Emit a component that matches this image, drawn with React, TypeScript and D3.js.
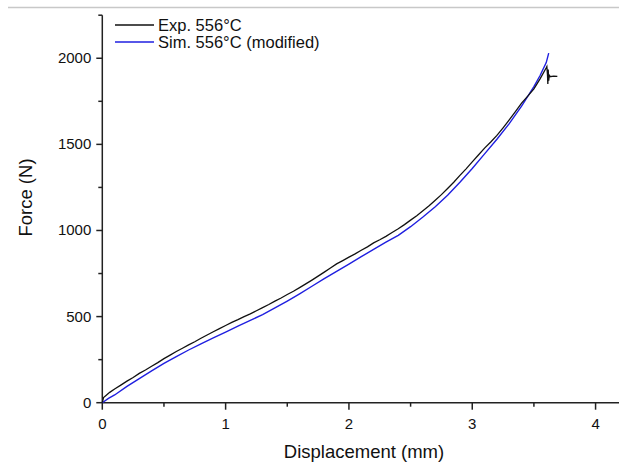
import React from "react";
import * as d3 from "d3";

const expDisp = [0, 0.01, 0.03, 0.06, 0.1, 0.15, 0.2, 0.25, 0.3, 0.35, 0.4, 0.45, 0.5, 0.55, 0.6, 0.65, 0.7, 0.75, 0.8, 0.85, 0.9, 0.95, 1.0, 1.05, 1.1, 1.15, 1.2, 1.25, 1.3, 1.35, 1.4, 1.45, 1.5, 1.55, 1.6, 1.65, 1.7, 1.75, 1.8, 1.85, 1.9, 1.95, 2.0, 2.05, 2.1, 2.15, 2.2, 2.25, 2.3, 2.35, 2.4, 2.45, 2.5, 2.55, 2.6, 2.65, 2.7, 2.75, 2.8, 2.85, 2.9, 2.95, 3.0, 3.05, 3.1, 3.15, 3.2, 3.25, 3.3, 3.35, 3.4, 3.45, 3.5, 3.55, 3.6, 3.605, 3.61, 3.613, 3.616, 3.62, 3.625, 3.63, 3.66, 3.69];
const expForce = [0, 30, 42, 60, 80, 102, 125, 146, 170, 190, 212, 233, 256, 276, 297, 316, 336, 354, 374, 393, 412, 430, 448, 466, 482, 500, 516, 534, 552, 570, 590, 608, 628, 647, 668, 690, 712, 735, 758, 782, 806, 825, 845, 864, 885, 905, 928, 946, 966, 988, 1010, 1034, 1060, 1086, 1114, 1143, 1175, 1208, 1244, 1280, 1320, 1358, 1398, 1438, 1478, 1514, 1552, 1596, 1642, 1690, 1740, 1780, 1822, 1880, 1945, 1952, 1905, 1850, 1935, 1870, 1905, 1893, 1896, 1895];

const simDisp = [0, 0.05, 0.1, 0.2, 0.3, 0.4, 0.5, 0.6, 0.7, 0.8, 0.9, 1.0, 1.1, 1.2, 1.3, 1.4, 1.5, 1.6, 1.7, 1.8, 1.9, 2.0, 2.1, 2.2, 2.3, 2.4, 2.5, 2.6, 2.7, 2.8, 2.9, 3.0, 3.1, 3.2, 3.3, 3.4, 3.5, 3.55, 3.6, 3.62];
const simForce = [0, 25, 45, 95, 140, 185, 228, 268, 306, 342, 376, 410, 445, 478, 512, 550, 590, 632, 676, 720, 762, 805, 848, 890, 932, 972, 1022, 1078, 1138, 1205, 1280, 1360, 1445, 1530, 1620, 1722, 1835, 1900, 1975, 2030];

const xTicks = [0, 1, 2, 3, 4];
const yTicks = [0, 500, 1000, 1500, 2000];
const legendLabels = ["Exp. 556°C", "Sim. 556°C (modified)"];
const xTitle = "Displacement (mm)";
const yTitle = "Force (N)";

export default function App() {
  const W = 619, H = 464;
  const x = d3.scaleLinear().domain([0, 4.19]).range([102.3, 619]);
  const y = d3.scaleLinear().domain([0, 2250]).range([402.7, 15.2]);
  const expData = expDisp.map((d, i) => [d, expForce[i]] as [number, number]);
  const simData = simDisp.map((d, i) => [d, simForce[i]] as [number, number]);
  const line = d3.line<[number, number]>().x(d => x(d[0])).y(d => y(d[1]));
  const xMinor = d3.range(0.5, 4.2, 1);
  const yMinor = d3.range(250, 2250, 500);
  const font = "'Liberation Sans', Arial, sans-serif";
  const axisColor = "#222";
  const x0 = x(0), y0 = y(0);
  return (
    <svg width={W} height={H} style={{ position: "absolute", left: 0, top: 0, background: "#fff" }} fontFamily={font}>
      <line x1={8} x2={W} y1={7.5} y2={7.5} stroke="#c8c8c8" strokeWidth={1.5} />
      {/* axes */}
      <line x1={x0} x2={x0} y1={y(2250)} y2={y0} stroke={axisColor} strokeWidth={1.5} />
      <line x1={x0} x2={x0 - 4} y1={y(2250)} y2={y(2250)} stroke={axisColor} strokeWidth={1.5} />
      <line x1={x0} x2={W} y1={y0} y2={y0} stroke={axisColor} strokeWidth={1.5} />
      {xTicks.map(t => (
        <g key={"xt" + t}>
          <line x1={x(t)} x2={x(t)} y1={y0} y2={y0 + 7} stroke={axisColor} strokeWidth={1.5} />
          <text x={x(t)} y={y0 + 26} textAnchor="middle" fontSize={15} fill="#111">{t}</text>
        </g>
      ))}
      {xMinor.map(t => (
        <line key={"xm" + t} x1={x(t)} x2={x(t)} y1={y0} y2={y0 + 4} stroke={axisColor} strokeWidth={1.5} />
      ))}
      {yTicks.map(t => (
        <g key={"yt" + t}>
          <line x1={x0 - 6} x2={x0} y1={y(t)} y2={y(t)} stroke={axisColor} strokeWidth={1.5} />
          <text x={x0 - 11} y={y(t) + 5} textAnchor="end" fontSize={15} fill="#111">{t}</text>
        </g>
      ))}
      {yMinor.map(t => (
        <line key={"ym" + t} x1={x0 - 4} x2={x0} y1={y(t)} y2={y(t)} stroke={axisColor} strokeWidth={1.5} />
      ))}
      <text x={(283 + 445) / 2} y={458} textAnchor="middle" fontSize={18.5} fill="#111">{xTitle}</text>
      <text transform={`translate(32,${(153 + 242) / 2}) rotate(-90)`} textAnchor="middle" fontSize={18.5} fill="#111">{yTitle}</text>
      {/* series */}
      <path d={line(simData) || ""} fill="none" stroke="#1f1fe0" strokeWidth={1.4} />
      <path d={line(expData) || ""} fill="none" stroke="#111" strokeWidth={1.3} />
      {/* legend */}
      {legendLabels.map((l, i) => (
        <g key={l}>
          <line x1={115} x2={154} y1={25 + i * 17} y2={25 + i * 17} stroke={i === 0 ? "#111" : "#1f1fe0"} strokeWidth={1.4} />
          <text x={158} y={25 + i * 17 + 5.5} fontSize={16.5} fill="#111">{l}</text>
        </g>
      ))}
    </svg>
  );
}
